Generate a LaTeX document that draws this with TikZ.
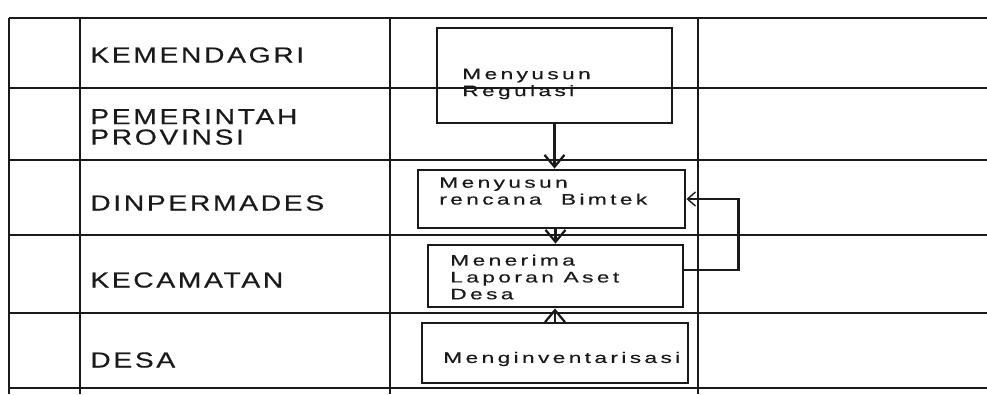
\documentclass[tikz,border=0pt]{standalone}
\usepackage{fontspec}
\usepackage{tikz}
\usetikzlibrary{arrows.meta, positioning, calc}
\setmainfont{Liberation Sans}
\newfontfamily\lanefont[FakeStretch=1.3, LetterSpace=12, FakeBold=0.4]{Liberation Sans}
\newfontfamily\taskfont[FakeStretch=1.5, LetterSpace=22, FakeBold=0.4]{Liberation Sans}
\definecolor{inkgray}{HTML}{1A1A1A}

\begin{document}
\begin{tikzpicture}[x=0.25mm, y=-0.25mm,
    gridline/.style={line width=1.3pt, inkgray},
    taskbox/.style={draw=inkgray, line width=2pt},
    tasktext/.style={anchor=west, align=left, inkgray, inner sep=0pt,
        font=\taskfont\fontsize{10.8pt}{12pt}\selectfont},
    lanetext/.style={anchor=west, align=left, inkgray, inner sep=0pt,
        font=\lanefont\fontsize{15.5pt}{14.5pt}\selectfont},
    flow/.style={line width=2pt, inkgray, -{Straight Barb[length=3mm, width=5mm, line width=1.6pt]}}]
    \useasboundingbox (0,0) rectangle (987,394);

    % Table
    \foreach \y in {18, 88, 160, 235, 313, 388}
        \draw[gridline] (9,\y) -- (987,\y);
    \foreach \x in {9, 80, 390, 698}
        \draw[gridline] (\x,18) -- (\x,394);

    % Lane labels
    \node[lanetext] (kemendagri) at (90,55) {KEMENDAGRI};
    \node[lanetext] (provinsi) at (90,127) {PEMERINTAH\\PROVINSI};
    \node[lanetext] (dinpermades) at (90,203) {DINPERMADES};
    \node[lanetext] (kecamatan) at (90,280) {KECAMATAN};
    \node[lanetext] (desa) at (90,360) {DESA};

    % Activities
    \node[taskbox, minimum width=58.75mm, minimum height=23.75mm] (regulasi) at (554.5,75.5) {};
    \node[tasktext] (regulasitext) at (462,84) {Menyusun\\Regulasi};

    \node[taskbox, minimum width=66.75mm, minimum height=14.5mm] (bimtek) at (551.5,199) {};
    \node[tasktext] (bimtektext) at (439,191) {Menyusun\\rencana\ \ Bimtek};

    \node[taskbox, minimum width=63.75mm, minimum height=15.5mm] (laporan) at (555.5,276) {};
    \node[tasktext] (laporantext) at (450,277) {Menerima\\Laporan Aset\\Desa};

    \node[taskbox, minimum width=66.5mm, minimum height=15mm] (inventaris) at (555,353) {};
    \node[tasktext] (inventaristext) at (443,359) {Menginventarisasi};

    % Flow
    \draw[flow] (regulasi.south) -- (regulasi.south |- bimtek.north);
    \draw[flow] (bimtek.south -| laporan.north) -- (laporan.north);
    \draw[flow] (inventaris.north) -- (inventaris.north |- laporan.south);
    \draw[flow, -{Straight Barb[length=2mm, width=3.5mm, line width=1pt]}]
        ($(laporan.east)+(0,-6)$) -- ++(54,0) |- (bimtek.east);
\end{tikzpicture}
\end{document}
